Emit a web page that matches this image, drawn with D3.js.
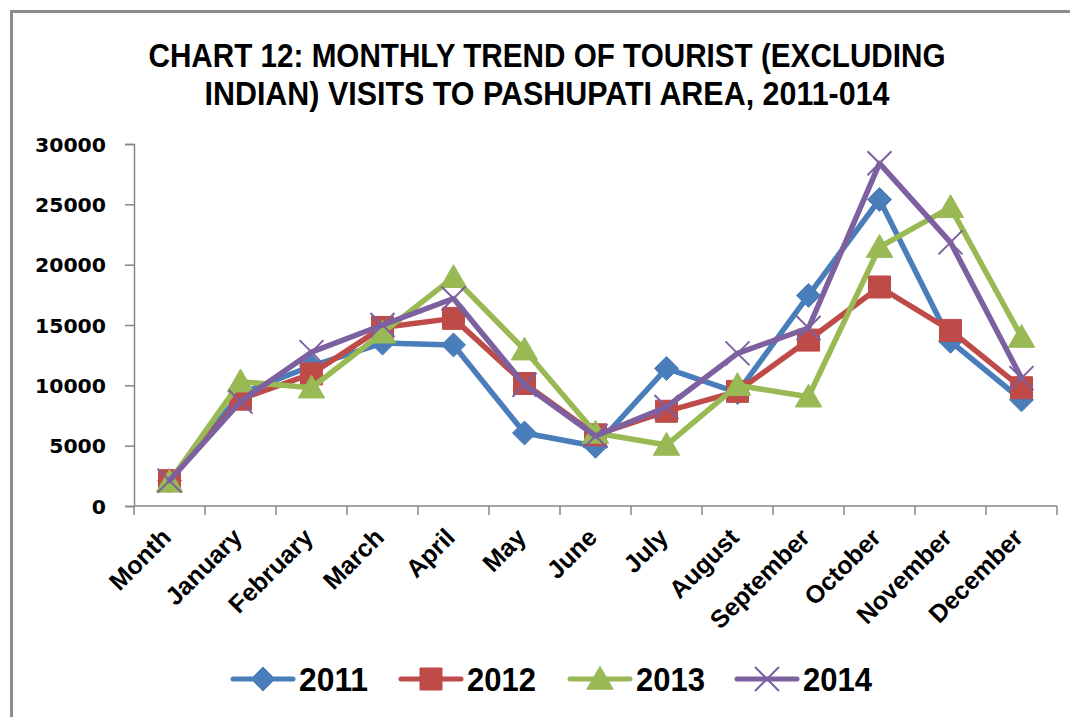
<!DOCTYPE html>
<html><head><meta charset="utf-8">
<script src="https://cdn.jsdelivr.net/npm/d3@7"></script>
<style>
html,body{margin:0;padding:0;background:#fff;}
svg{display:block;}
</style></head>
<body>
<svg id="chart" width="1070" height="717"></svg>
<script>
const categories = ["Month","January","February","March","April","May","June","July","August","September","October","November","December"];
const years = ["2011","2012","2013","2014"];
const v2011 = [2100, 9300, 11600, 13500, 13350, 6050, 4950, 11400, 9400, 17450, 25400, 13650, 8800];
const v2012 = [2100, 8850, 10950, 14800, 15550, 10150, 5900, 7850, 9500, 13750, 18150, 14550, 9800];
const v2013 = [2000, 10300, 9800, 14350, 18950, 12950, 6050, 5050, 10000, 9050, 21450, 24750, 14000];
const v2014 = [2100, 8650, 12750, 15000, 17200, 10050, 5800, 8200, 12650, 14750, 28400, 21850, 10600];
const yTicks = [0, 5000, 10000, 15000, 20000, 25000, 30000];
const titleLines = ["CHART 12: MONTHLY TREND OF TOURIST (EXCLUDING", "INDIAN) VISITS TO PASHUPATI AREA, 2011-014"];

const seriesValues = [v2011, v2012, v2013, v2014];
const colors = ["#4A7EBB", "#BE4B48", "#98B954", "#7D60A0"];
const markers = ["diamond", "square", "triangle", "cross"];

const svg = d3.select("#chart");
const narrow = "'Liberation Sans Narrow', 'Arial Narrow', 'Liberation Sans', sans-serif";

// frame
svg.append("path").attr("d", "M11.5,717 L11.5,11.5 L1070,11.5")
  .attr("fill", "none").attr("stroke", "#8c8c8c").attr("stroke-width", 3);

// title
svg.selectAll(".title").data(titleLines).enter().append("text")
  .attr("x", 547).attr("y", (d, i) => 67 + i * 38)
  .attr("text-anchor", "middle")
  .attr("font-family", narrow).attr("font-weight", "bold").attr("font-size", 33)
  .attr("fill", "#000")
  .attr("textLength", (d, i) => i === 0 ? 797 : 685).attr("lengthAdjust", "spacingAndGlyphs")
  .text(d => d);

const x = d3.scaleBand().domain(categories).range([134, 1057]);
const y = d3.scaleLinear().domain([0, 30000]).range([506, 144]);
const cx = c => x(c) + x.bandwidth() / 2;

// y axis
const yAxis = svg.append("g").attr("transform", "translate(134,0)")
  .call(d3.axisLeft(y).tickValues(yTicks).tickSize(9).tickPadding(19).tickFormat(d3.format("d")));
yAxis.select(".domain").attr("stroke", "#868686").attr("stroke-width", 1.5);
yAxis.selectAll(".tick line").attr("stroke", "#868686").attr("stroke-width", 1.5);
yAxis.selectAll(".tick text")
  .attr("font-family", "'DejaVu Sans', Verdana, sans-serif").attr("font-weight", "bold")
  .attr("font-size", 19.5).attr("fill", "#000").attr("dy", "0.36em")
  .attr("textLength", d => String(d).length * 14.2).attr("lengthAdjust", "spacingAndGlyphs");

// x axis
const xg = svg.append("g").attr("transform", "translate(0,506)");
xg.append("line").attr("x1", 134).attr("x2", 1057).attr("y1", 0).attr("y2", 0)
  .attr("stroke", "#868686").attr("stroke-width", 1.5);
const bounds = categories.map(c => x(c)).concat([x.range()[1]]);
xg.selectAll(".xt").data(bounds).enter().append("line")
  .attr("x1", d => d).attr("x2", d => d).attr("y1", 0).attr("y2", 9)
  .attr("stroke", "#868686").attr("stroke-width", 1.5);
xg.selectAll(".xl").data(categories).enter().append("text")
  .attr("transform", d => `translate(${cx(d) + 3},${33}) rotate(-45)`)
  .attr("text-anchor", "end")
  .attr("font-family", narrow).attr("font-weight", "bold")
  .attr("font-size", 25).attr("fill", "#000")
  .text(d => d);

function markerPath(type, s) {
  const h = s / 2;
  if (type === "diamond") return `M0,${-h}L${h},0L0,${h}L${-h},0Z`;
  if (type === "square") return `M${-h},${-h}H${h}V${h}H${-h}Z`;
  if (type === "triangle") return `M0,${-h * 1.05}L${h * 1.1},${h * 0.85}L${-h * 1.1},${h * 0.85}Z`;
  return `M${-h},${-h}L${h},${h}M${h},${-h}L${-h},${h}`;
}
function drawMarker(g, type, color, s) {
  const p = g.append("path").attr("d", markerPath(type, s));
  if (type === "cross") p.attr("fill", "none").attr("stroke", color).attr("stroke-width", 2);
  else p.attr("fill", color).attr("stroke", color).attr("stroke-width", 1);
}

const line = d3.line().x((d, i) => cx(categories[i])).y(d => y(d));
seriesValues.forEach((vals, si) => {
  const g = svg.append("g");
  g.append("path").datum(vals).attr("d", line)
    .attr("fill", "none").attr("stroke", colors[si]).attr("stroke-width", 5.5)
    .attr("stroke-linejoin", "round").attr("stroke-linecap", "round");
  vals.forEach((v, i) => {
    const mg = g.append("g").attr("transform", `translate(${cx(categories[i])},${y(v)})`);
    drawMarker(mg, markers[si], colors[si], markers[si] === "square" ? 22 : 24);
  });
});

// legend
const legX = [233, 401, 570, 737];
years.forEach((yr, i) => {
  const g = svg.append("g").attr("transform", `translate(${legX[i]},679)`);
  g.append("line").attr("x1", 0).attr("x2", 60).attr("y1", 0).attr("y2", 0)
    .attr("stroke", colors[i]).attr("stroke-width", 5).attr("stroke-linecap", "round");
  const mg = g.append("g").attr("transform", "translate(30,0)");
  drawMarker(mg, markers[i], colors[i], markers[i] === "square" ? 22 : 24);
  g.append("text").attr("x", 66).attr("y", 12)
    .attr("font-family", narrow).attr("font-weight", "bold").attr("font-size", 34)
    .attr("textLength", 69).attr("lengthAdjust", "spacingAndGlyphs")
    .attr("fill", "#000").text(yr);
});
</script>
</body></html>
